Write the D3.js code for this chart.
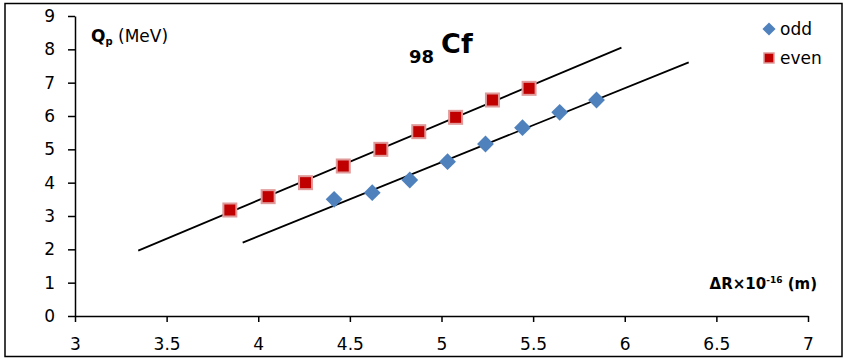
<!DOCTYPE html>
<html>
<head>
<meta charset="utf-8">
<script src="https://d3js.org/d3.v7.min.js"></script>
<style>
  body { margin: 0; background: #fff; }
  svg { display: block; font-family: "DejaVu Sans", sans-serif; }
</style>
</head>
<body>
<div id="chart"></div>
<script>
// even / odd values
const evenX = [3.845, 4.054, 4.258, 4.464, 4.669, 4.876, 5.077, 5.278, 5.478];
const evenY = [3.18, 3.58, 4.00, 4.50, 5.00, 5.53, 5.96, 6.48, 6.83];
const oddX = [4.414, 4.622, 4.827, 5.033, 5.240, 5.442, 5.645, 5.846];
const oddY = [3.50, 3.70, 4.08, 4.63, 5.16, 5.65, 6.11, 6.48];

// trendline end points
const evenFitX = [3.345, 5.982];
const evenFitY = [1.96, 8.05];
const oddFitX = [3.915, 6.349];
const oddFitY = [2.20, 7.61];

const xTicks = [3, 3.5, 4, 4.5, 5, 5.5, 6, 6.5, 7];
const yTicks = [0, 1, 2, 3, 4, 5, 6, 7, 8, 9];

const W = 843, H = 360;
const margin = { left: 75, right: 35, top: 16, bottom: 44 };

const svg = d3.select('#chart').append('svg')
  .attr('width', W).attr('height', H);

// outer frame
svg.append('rect')
  .attr('x', 5).attr('y', 3.5)
  .attr('width', 837).attr('height', 353)
  .attr('fill', 'none').attr('stroke', '#000').attr('stroke-width', 1.5);

const x = d3.scaleLinear().domain([3, 7]).range([margin.left, W - margin.right]);
const y = d3.scaleLinear().domain([0, 9]).range([H - margin.bottom, margin.top]);

const xAxis = svg.append('g')
  .attr('transform', `translate(0,${y(0)})`)
  .call(d3.axisBottom(x).tickValues(xTicks).tickSize(6).tickSizeOuter(0).tickPadding(16)
    .tickFormat(d3.format('')));

const yAxis = svg.append('g')
  .attr('transform', `translate(${x(3)},0)`)
  .call(d3.axisLeft(y).tickValues(yTicks).tickSize(7).tickSizeOuter(0).tickPadding(13));

[xAxis, yAxis].forEach(g => {
  g.selectAll('path, line').attr('stroke', '#000').attr('stroke-width', 1.5);
  g.selectAll('text').attr('font-size', 17).attr('fill', '#000')
    .attr('font-family', '"DejaVu Sans", sans-serif');
});

// trendlines
const line = d3.line().x(d => x(d[0])).y(d => y(d[1]));
[[evenFitX, evenFitY], [oddFitX, oddFitY]].forEach(([fx, fy]) => {
  svg.append('path')
    .attr('d', line(fx.map((v, i) => [v, fy[i]])))
    .attr('fill', 'none').attr('stroke', '#000').attr('stroke-width', 1.8);
});

// odd: blue diamonds
const diamond = d3.symbol().type(d3.symbolDiamond2).size(180);
svg.append('g').selectAll('path')
  .data(oddX.map((v, i) => [v, oddY[i]]))
  .join('path')
  .attr('d', diamond)
  .attr('transform', d => `translate(${x(d[0])},${y(d[1])})`)
  .attr('fill', '#4f81bd');

// even: red squares
svg.append('g').selectAll('rect')
  .data(evenX.map((v, i) => [v, evenY[i]]))
  .join('rect')
  .attr('x', d => x(d[0]) - 6.5).attr('y', d => y(d[1]) - 6.5)
  .attr('width', 13).attr('height', 13)
  .attr('fill', '#c00000')
  .attr('stroke', '#e09a9a').attr('stroke-width', 2);

// y axis title
const qt = svg.append('text').attr('x', 91).attr('y', 42)
  .attr('font-size', 17).attr('fill', '#000');
qt.append('tspan').attr('font-weight', 'bold').text('Q');
qt.append('tspan').attr('font-weight', 'bold').attr('font-size', 10).attr('dy', 3).text('p');
qt.append('tspan').attr('dy', -3).text(' (MeV)');

// x axis title
const xt = svg.append('text').attr('x', 817).attr('y', 289)
  .attr('text-anchor', 'end').attr('font-size', 15)
  .attr('font-weight', 'bold').attr('fill', '#000');
xt.append('tspan').text('ΔR×10');
xt.append('tspan').attr('font-size', 9).attr('dy', -6).text('-16');
xt.append('tspan').attr('dy', 6).text(' (m)');

// title
const tt = svg.append('text').attr('x', 409).attr('y', 63)
  .attr('font-weight', 'bold').attr('fill', '#000');
tt.append('tspan').attr('font-size', 18).text('98');
tt.append('tspan').attr('font-size', 27).attr('dx', 7).attr('dy', -10).text('Cf');

// legend
const lg = svg.append('g').attr('font-size', 17);
lg.append('path').attr('d', d3.symbol().type(d3.symbolDiamond2).size(110))
  .attr('transform', 'translate(769,29)').attr('fill', '#4f81bd');
lg.append('text').attr('x', 780).attr('y', 35).text('odd');
lg.append('rect').attr('x', 764).attr('y', 53).attr('width', 10).attr('height', 10)
  .attr('fill', '#c00000').attr('stroke', '#e09a9a').attr('stroke-width', 1.5);
lg.append('text').attr('x', 780).attr('y', 64).text('even');
</script>
</body>
</html>
